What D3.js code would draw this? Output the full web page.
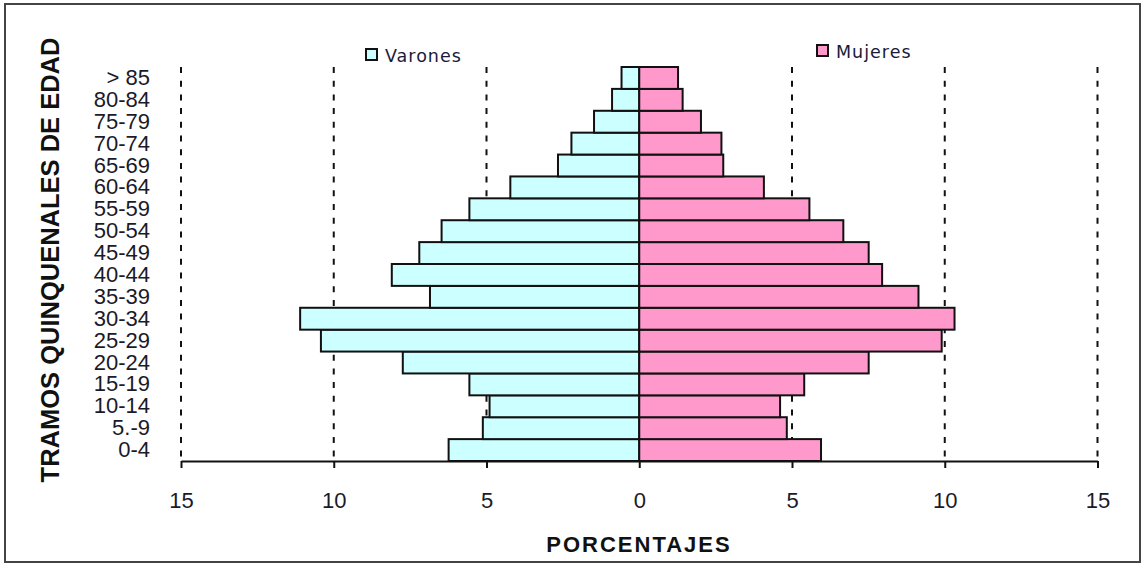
<!DOCTYPE html>
<html>
<head>
<meta charset="utf-8">
<script src="https://cdn.jsdelivr.net/npm/d3@7"></script>
<style>
  body { margin: 0; background: #fff; }
  .tick-label { font-family: "Liberation Sans", Arial, sans-serif; font-size: 22px; fill: #1a1a2a; }
  .axis-title { font-family: "Liberation Sans", Arial, sans-serif; font-weight: bold; fill: #111; }
  .legend-label { font-family: "DejaVu Sans", Verdana, sans-serif; font-size: 17.5px; letter-spacing: 1px; fill: #1a1a3a; }
</style>
</head>
<body>
<div id="wrapper"></div>
<script>
// age groups, youngest first
const ageGroups = ["0-4", "5.-9", "10-14", "15-19", "20-24", "25-29", "30-34", "35-39", "40-44",
  "45-49", "50-54", "55-59", "60-64", "65-69", "70-74", "75-79", "80-84", "> 85"]
const varones = [6.24, 5.12, 4.9, 5.56, 7.74, 10.42, 11.1, 6.85, 8.1, 7.2, 6.47, 5.56, 4.22, 2.66, 2.22, 1.48, 0.89, 0.58]
const mujeres = [5.95, 4.83, 4.61, 5.4, 7.51, 9.9, 10.32, 9.14, 7.95, 7.51, 6.68, 5.57, 4.08, 2.75, 2.69, 2.02, 1.42, 1.27]
const xTicks = [-15, -10, -5, 0, 5, 10, 15]
const seriesNames = ["Varones", "Mujeres"]

function drawPyramid() {

  // 1. Access data
  const dataset = ageGroups.map((g, i) => ({ group: g, men: varones[i], women: mujeres[i] }))
  const yAccessor = d => d.group

  // 2. Chart dimensions
  const dimensions = {
    width: 1145,
    height: 565,
    plotLeft: 181,
    plotRight: 1097.5,
    plotTop: 67,
    plotBottom: 461,
  }

  // 3. Draw canvas
  const wrapper = d3.select("#wrapper")
    .append("svg")
      .attr("width", dimensions.width)
      .attr("height", dimensions.height)

  wrapper.append("rect")
      .attr("x", 5)
      .attr("y", 4)
      .attr("width", 1135)
      .attr("height", 558)
      .attr("fill", "#fff")
      .attr("stroke", "#444")
      .attr("stroke-width", 2)

  // 4. Scales
  const xScale = d3.scaleLinear()
    .domain([-15, 15])
    .range([dimensions.plotLeft, dimensions.plotRight])

  const yScale = d3.scaleBand()
    .domain(ageGroups.slice().reverse())
    .range([dimensions.plotTop, dimensions.plotBottom])
    .padding(0)

  // dashed grid lines
  wrapper.append("g")
    .selectAll("line")
    .data(xTicks)
    .enter().append("line")
      .attr("x1", d => xScale(d))
      .attr("x2", d => xScale(d))
      .attr("y1", dimensions.plotTop)
      .attr("y2", dimensions.plotBottom)
      .attr("stroke", "#111")
      .attr("stroke-width", 2)
      .attr("stroke-dasharray", "6,7.7")

  // 5. Draw data
  const bars = wrapper.append("g")

  bars.selectAll(".bar-men")
    .data(dataset)
    .enter().append("rect")
      .attr("class", "bar-men")
      .attr("x", d => xScale(-d.men))
      .attr("y", d => yScale(yAccessor(d)))
      .attr("width", d => xScale(0) - xScale(-d.men))
      .attr("height", yScale.bandwidth())
      .attr("fill", "#ccffff")
      .attr("stroke", "#111")
      .attr("stroke-width", 2)

  bars.selectAll(".bar-women")
    .data(dataset)
    .enter().append("rect")
      .attr("class", "bar-women")
      .attr("x", xScale(0))
      .attr("y", d => yScale(yAccessor(d)))
      .attr("width", d => xScale(d.women) - xScale(0))
      .attr("height", yScale.bandwidth())
      .attr("fill", "#ff99cc")
      .attr("stroke", "#111")
      .attr("stroke-width", 2)

  // 6. Peripherals
  const xAxisGenerator = d3.axisBottom(xScale)
    .tickValues(xTicks)
    .tickSize(7)
    .tickSizeOuter(0)
    .tickPadding(24)
    .tickFormat(d => Math.abs(d))

  const xAxis = wrapper.append("g")
      .attr("transform", `translate(0, ${dimensions.plotBottom})`)
    .call(xAxisGenerator)

  xAxis.select(".domain").attr("stroke", "#111").attr("stroke-width", 2)
  xAxis.selectAll(".tick line").attr("stroke", "#111").attr("stroke-width", 2)
  xAxis.selectAll(".tick text")
      .attr("class", "tick-label")
      .attr("font-size", null)
      .attr("font-family", null)
      .attr("fill", null)

  const yAxisGenerator = d3.axisLeft(yScale)
    .tickSize(0)
    .tickPadding(0)

  const yAxis = wrapper.append("g")
      .attr("transform", "translate(150, 0)")
    .call(yAxisGenerator)

  yAxis.select(".domain").remove()
  yAxis.selectAll(".tick text")
      .attr("class", "tick-label")
      .attr("font-size", null)
      .attr("font-family", null)
      .attr("fill", null)

  wrapper.append("text")
      .attr("class", "axis-title")
      .attr("transform", "translate(59, 260) rotate(-90)")
      .attr("text-anchor", "middle")
      .style("font-size", "25.5px")
      .text("TRAMOS QUINQUENALES DE EDAD")

  wrapper.append("text")
      .attr("class", "axis-title")
      .attr("x", 639)
      .attr("y", 552)
      .attr("text-anchor", "middle")
      .style("font-size", "22px")
      .style("letter-spacing", "2px")
      .text("PORCENTAJES")

  // legend
  const legendItems = [
    { name: seriesNames[0], fill: "#ccffff", x: 366, y: 49 },
    { name: seriesNames[1], fill: "#ff99cc", x: 817, y: 45 },
  ]

  const legend = wrapper.selectAll(".legend")
    .data(legendItems)
    .enter().append("g")
      .attr("class", "legend")
      .attr("transform", d => `translate(${d.x}, ${d.y})`)

  legend.append("rect")
      .attr("width", 11)
      .attr("height", 11)
      .attr("fill", d => d.fill)
      .attr("stroke", "#111")
      .attr("stroke-width", 2)

  legend.append("text")
      .attr("class", "legend-label")
      .attr("x", 19)
      .attr("y", 12.5)
      .text(d => d.name)
}
drawPyramid()
</script>
</body>
</html>
